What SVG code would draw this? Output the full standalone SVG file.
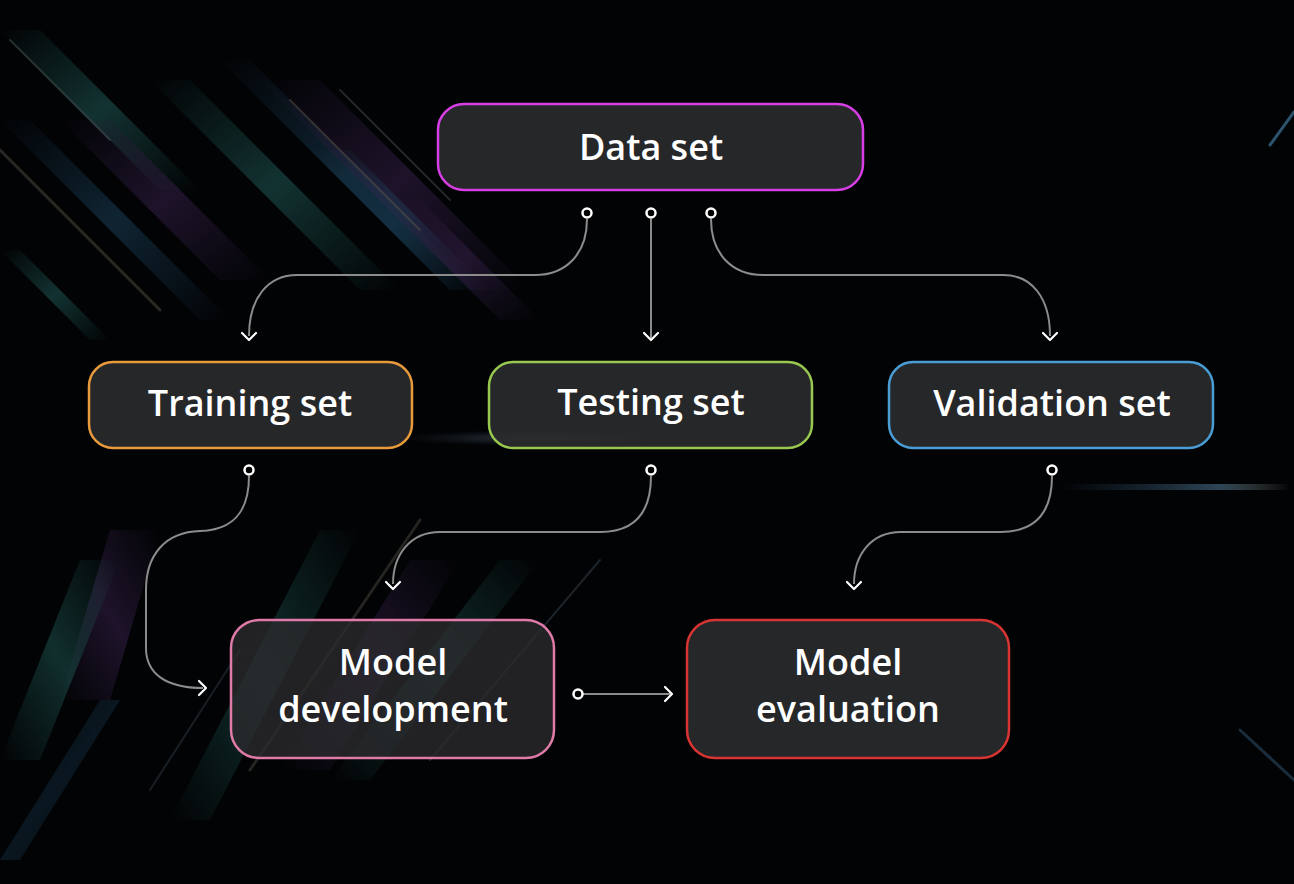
<svg xmlns="http://www.w3.org/2000/svg" width="1294" height="884" viewBox="0 0 1294 884">
<defs>
<style>
.node{fill:#2a2b2d;fill-opacity:0.9;stroke-width:2.5}
.lbl{font-family:"Open Sans","Lato","Liberation Sans",sans-serif;font-weight:600;font-size:36px;fill:#ffffff;text-anchor:middle}
.con{fill:none;stroke:#8c8c8c;stroke-width:2}
.chev{fill:none;stroke:#ffffff;stroke-width:2.2;stroke-linecap:round;stroke-linejoin:round}
.dot{fill:#000;stroke:#ffffff;stroke-width:2.5}
.st{stroke-linecap:round;fill:none}
</style>
<linearGradient id="gTeal" x1="0" y1="0" x2="1" y2="1">
<stop offset="0" stop-color="#1f5a55" stop-opacity="0"/>
<stop offset="0.5" stop-color="#1f5a55" stop-opacity="0.55"/>
<stop offset="1" stop-color="#1f5a55" stop-opacity="0"/>
</linearGradient>
<linearGradient id="gPurp" x1="0" y1="0" x2="1" y2="1">
<stop offset="0" stop-color="#2a1a3a" stop-opacity="0"/>
<stop offset="0.5" stop-color="#2a1a3a" stop-opacity="0.7"/>
<stop offset="1" stop-color="#2a1a3a" stop-opacity="0"/>
</linearGradient>
<linearGradient id="gBlue" x1="0" y1="0" x2="1" y2="1">
<stop offset="0" stop-color="#1d4660" stop-opacity="0"/>
<stop offset="0.5" stop-color="#1d4660" stop-opacity="0.5"/>
<stop offset="1" stop-color="#1d4660" stop-opacity="0"/>
</linearGradient>
<linearGradient id="gTealU" x1="0" y1="1" x2="1" y2="0">
<stop offset="0" stop-color="#1f5a55" stop-opacity="0"/>
<stop offset="0.5" stop-color="#1f5a55" stop-opacity="0.5"/>
<stop offset="1" stop-color="#1f5a55" stop-opacity="0"/>
</linearGradient>
<linearGradient id="gPurpU" x1="0" y1="1" x2="1" y2="0">
<stop offset="0" stop-color="#2a1a3a" stop-opacity="0"/>
<stop offset="0.5" stop-color="#2a1a3a" stop-opacity="0.7"/>
<stop offset="1" stop-color="#2a1a3a" stop-opacity="0"/>
</linearGradient>
<linearGradient id="gH" x1="0" y1="0" x2="1" y2="0">
<stop offset="0" stop-color="#3a6a90" stop-opacity="0"/>
<stop offset="0.7" stop-color="#5a88a8" stop-opacity="0.5"/>
<stop offset="1" stop-color="#c0c8b0" stop-opacity="0"/>
</linearGradient>
<radialGradient id="gGlow" cx="0.5" cy="0.5" r="0.5">
<stop offset="0" stop-color="#8aa0b0" stop-opacity="0.35"/>
<stop offset="1" stop-color="#4a6a80" stop-opacity="0"/>
</radialGradient>
</defs>

<rect x="0" y="0" width="1294" height="884" fill="#020305"/>

<g id="background">
<polygon points="0,30 40,30 200,190 160,190" fill="url(#gTeal)"/>
<polygon points="60,120 110,120 270,280 220,280" fill="url(#gPurp)"/>
<polygon points="0,120 30,120 230,320 200,320" fill="url(#gBlue)"/>
<polygon points="150,80 190,80 400,290 360,290" fill="url(#gTeal)"/>
<polygon points="220,60 250,60 480,290 450,290" fill="url(#gBlue)"/>
<polygon points="260,80 320,80 530,290 470,290" fill="url(#gPurp)"/>
<polygon points="310,150 350,150 490,290 450,290" fill="url(#gBlue)"/>
<polygon points="380,200 420,200 540,320 500,320" fill="url(#gPurp)"/>
<polygon points="0,250 20,250 110,340 90,340" fill="url(#gTeal)"/>
<line x1="0" y1="150" x2="160" y2="310" class="st" stroke="#6a6050" stroke-opacity="0.4" stroke-width="3"/>
<line x1="10" y1="40" x2="110" y2="140" class="st" stroke="#5a6a6a" stroke-opacity="0.4" stroke-width="2"/>
<line x1="290" y1="100" x2="420" y2="230" class="st" stroke="#6a6050" stroke-opacity="0.4" stroke-width="2"/>
<line x1="340" y1="90" x2="450" y2="200" class="st" stroke="#506060" stroke-opacity="0.4" stroke-width="2"/>

<polygon points="60,700 110,700 160,530 110,530" fill="url(#gPurpU)"/>
<polygon points="0,760 40,760 120,560 80,560" fill="url(#gTealU)"/>
<polygon points="170,820 210,820 360,530 320,530" fill="url(#gTealU)"/>
<polygon points="280,770 330,770 460,560 410,560" fill="url(#gPurpU)"/>
<polygon points="330,780 370,780 540,560 500,560" fill="url(#gTealU)"/>
<polygon points="0,860 20,860 120,700 100,700" fill="url(#gBlue)" opacity="0.6"/>
<line x1="250" y1="770" x2="420" y2="520" class="st" stroke="#7a7060" stroke-opacity="0.3" stroke-width="3"/>
<line x1="430" y1="760" x2="600" y2="560" class="st" stroke="#5a7080" stroke-opacity="0.3" stroke-width="2"/>
<line x1="150" y1="790" x2="240" y2="650" class="st" stroke="#4a6070" stroke-opacity="0.3" stroke-width="2"/>

<line x1="1270" y1="145" x2="1294" y2="112" class="st" stroke="#4a88b0" stroke-opacity="0.6" stroke-width="3"/>
<rect x="1060" y="484" width="230" height="6" fill="url(#gH)"/>
<ellipse cx="540" cy="438" rx="140" ry="8" fill="url(#gGlow)"/>
<line x1="1240" y1="730" x2="1294" y2="780" class="st" stroke="#2a4a60" stroke-opacity="0.6" stroke-width="3"/>
</g>

<g id="connectors">
<path class="con" d="M587,219 C587,255 565,275 535,275 L297,275 C268,275 249,298 249,336"/>
<path class="chev" d="M242,333 L249,340 L256,333"/>
<path class="con" d="M651,219 L651,338"/>
<path class="chev" d="M644,333 L651,340 L658,333"/>
<path class="con" d="M711,219 C711,255 733,275 763,275 L1003,275 C1032,275 1050,298 1050,336"/>
<path class="chev" d="M1043,333 L1050,340 L1057,333"/>

<path class="con" d="M249,476 C249,510 235,530 200,531 C165,532 146,555 146,590 L146,648 C146,673 165,688 203,688"/>
<path class="chev" d="M199,681 L206,688 L199,695"/>
<path class="con" d="M651,476 C651,510 637,532 600,532 L440,532 C410,532 393,555 393,584"/>
<path class="chev" d="M386,582 L393,589 L400,582"/>
<path class="con" d="M1052,476 C1052,510 1038,532 1000,532 L901,532 C871,532 854,555 854,584"/>
<path class="chev" d="M847,582 L854,589 L861,582"/>
<path class="con" d="M583,694 L670,694"/>
<path class="chev" d="M665,687 L672,694 L665,701"/>

<circle class="dot" cx="587" cy="213" r="4.5"/>
<circle class="dot" cx="651" cy="213" r="4.5"/>
<circle class="dot" cx="711" cy="213" r="4.5"/>
<circle class="dot" cx="249" cy="470" r="4.5"/>
<circle class="dot" cx="651" cy="470" r="4.5"/>
<circle class="dot" cx="1052" cy="470" r="4.5"/>
<circle class="dot" cx="578" cy="694" r="4.5"/>
</g>

<g id="data-set">
<rect class="node" x="438" y="104" width="425" height="86" rx="26" stroke="#d83ee6"/>
<text class="lbl" x="651" y="160">Data set</text>
</g>
<g id="training-set">
<rect class="node" x="89" y="362" width="323" height="86" rx="24" stroke="#e89a3c"/>
<text class="lbl" x="250" y="416">Training set</text>
</g>
<g id="testing-set">
<rect class="node" x="489" y="362" width="323" height="86" rx="24" stroke="#98c850"/>
<text class="lbl" x="651" y="415">Testing set</text>
</g>
<g id="validation-set">
<rect class="node" x="889" y="362" width="324" height="86" rx="24" stroke="#4a9cd4"/>
<text class="lbl" x="1052" y="416">Validation set</text>
</g>
<g id="model-development">
<rect class="node" x="231" y="620" width="323" height="138" rx="28" stroke="#e07aa8" style="fill-opacity:0.8"/>
<text class="lbl" x="393" y="675">Model</text>
<text class="lbl" x="393" y="722">development</text>
</g>
<g id="model-evaluation">
<rect class="node" x="687" y="620" width="322" height="138" rx="28" stroke="#d83434"/>
<text class="lbl" x="848" y="675">Model</text>
<text class="lbl" x="848" y="722">evaluation</text>
</g>
</svg>
